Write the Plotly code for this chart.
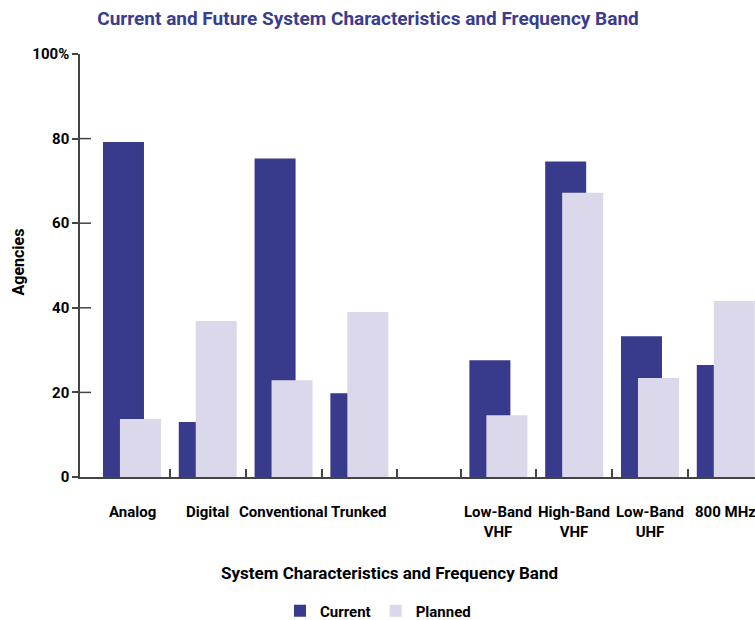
import plotly.graph_objects as go

# Share of agencies (%) by system characteristic and frequency band
categories = [
    "Analog", "Digital", "Conventional", "Trunked",
    "Low-Band<br>VHF", "High-Band<br>VHF", "Low-Band<br>UHF", "800 MHz",
]
current = [79.2, 13.0, 75.3, 19.8, 27.6, 74.6, 33.3, 26.5]
planned = [13.7, 36.9, 22.9, 39.0, 14.6, 67.2, 23.4, 41.6]

y_tick_vals = [0, 20, 40, 60, 80, 100]
y_tick_text = ["0", "20", "40", "60", "80", "100%"]

# Slot layout along the x axis (one unit per category slot)
N_CHARACTERISTICS = 4      # first block: system characteristics
BLOCK_GAP = 0.834          # extra room before the frequency-band block
BAR_W = 0.541
PLANNED_OFFSET = 0.224
TICK_PAD = 0.116
LABEL_CENTER = 0.383

pos = [i + (BLOCK_GAP if i >= N_CHARACTERISTICS else 0) for i in range(len(categories))]
divider_ticks = ([p + 1 - TICK_PAD for p in pos[:N_CHARACTERISTICS]]
                 + [p - TICK_PAD for p in pos[N_CHARACTERISTICS:]])

DARK = "#383a8c"
LIGHT = "#dcd8eb"
AXIS = "#444444"
FONT = "Roboto, Liberation Sans, sans-serif"

fig = go.Figure()
fig.add_trace(go.Bar(x=pos, y=current, name="Current", width=BAR_W, offset=0,
                     marker=dict(color=DARK, line=dict(width=0))))
fig.add_trace(go.Bar(x=pos, y=planned, name="Planned", width=BAR_W, offset=PLANNED_OFFSET,
                     marker=dict(color=LIGHT, line=dict(width=0))))

# inner half of the y tick marks, so the ticks cross the axis line
for v in y_tick_vals[1:-1]:
    fig.add_shape(type="line", xref="paper", yref="y", xsizemode="pixel", xanchor=0,
                  x0=0, x1=11, y0=v, y1=v, line=dict(color=AXIS, width=1.5))

annotations = [
    dict(x=p + LABEL_CENTER, y=0, xref="x", yref="y", text=lab, showarrow=False,
         xanchor="center", yanchor="top", yshift=-24,
         font=dict(family=FONT, size=15, color="black", weight="bold"))
    for p, lab in zip(pos, categories)
]
annotations.append(dict(
    x=(389 - 80) / 675, y=0, xref="paper", yref="paper", yshift=-96,
    text="System Characteristics and Frequency Band", showarrow=False,
    xanchor="center", yanchor="middle",
    font=dict(family=FONT, size=17, color="black", weight="bold")))
annotations.append(dict(
    x=0, y=0.5, xref="paper", yref="paper", xshift=-62, yshift=3, textangle=-90,
    text="Agencies", showarrow=False, xanchor="center", yanchor="middle",
    font=dict(family=FONT, size=16, color="black", weight="bold")))

fig.update_layout(
    width=755, height=620,
    margin=dict(l=80, r=0, t=54, b=143, autoexpand=False),
    paper_bgcolor="white", plot_bgcolor="white",
    barmode="overlay",
    title=dict(text="Current and Future System Characteristics and Frequency Band",
               xref="container", yref="container", x=368 / 755, y=1 - 18 / 620,
               xanchor="center", yanchor="middle",
               font=dict(family=FONT, size=19, color="#3a3c90", weight="bold")),
    xaxis=dict(range=[-0.303, 8.602], showgrid=False, zeroline=False,
               showline=True, linecolor=AXIS, linewidth=1.5,
               tickmode="array", tickvals=divider_ticks, showticklabels=False,
               ticks="inside", ticklen=8, tickwidth=1.5, tickcolor=AXIS),
    yaxis=dict(range=[0, 100], showgrid=False, zeroline=False,
               showline=True, linecolor=AXIS, linewidth=1.5,
               tickmode="array", tickvals=y_tick_vals, ticktext=y_tick_text,
               ticks="outside", ticklen=6, tickwidth=1.5, tickcolor=AXIS,
               tickfont=dict(family=FONT, size=15, color="black", weight="bold")),
    legend=dict(orientation="h", x=(280 - 80) / 675, y=(477 - 611) / 423,
                xanchor="left", yanchor="middle", traceorder="normal",
                font=dict(family=FONT, size=15, color="black", weight="bold")),
    annotations=annotations,
)

fig.write_html("out.html")
